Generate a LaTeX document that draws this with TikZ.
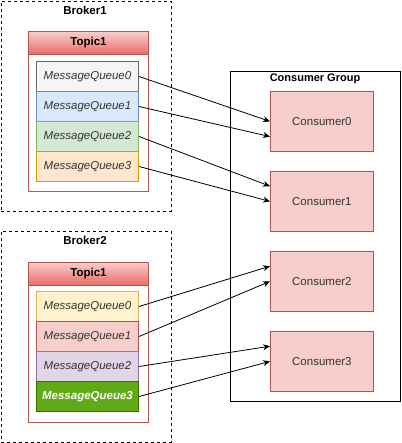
\documentclass[tikz,border=0pt]{standalone}
\usepackage{fontspec}
\setmainfont{Liberation Sans}
\usetikzlibrary{arrows.meta,calc}
\definecolor{redfill}{HTML}{F8CECC}
\definecolor{redline}{HTML}{B85450}
\definecolor{redhead}{HTML}{EA6B66}
\definecolor{gfill}{HTML}{F5F5F5}\definecolor{gline}{HTML}{666666}
\definecolor{bfill}{HTML}{DAE8FC}\definecolor{bline}{HTML}{6C8EBF}
\definecolor{grfill}{HTML}{D5E8D4}\definecolor{grline}{HTML}{82B366}
\definecolor{ofill}{HTML}{FFE6CC}\definecolor{oline}{HTML}{D79B00}
\definecolor{yfill}{HTML}{FFF2CC}\definecolor{yline}{HTML}{D6B656}
\definecolor{pfill}{HTML}{E1D5E7}\definecolor{pline}{HTML}{9673A6}
\definecolor{dgfill}{HTML}{60A917}\definecolor{dgline}{HTML}{2D7600}
\definecolor{txtgray}{HTML}{333333}
\tikzset{
  broker/.style={draw, dashed, line width=0.8pt, minimum width=170pt, minimum height=210pt, anchor=north west, inner sep=0pt},
  topicbody/.style={draw=redline, line width=1pt, fill=white, minimum width=120pt, minimum height=160pt, anchor=north west, inner sep=0pt},
  topichead/.style={draw=redline, line width=1pt, top color=redfill, bottom color=redhead, minimum width=120pt, minimum height=23pt, anchor=north west, inner sep=0pt, font=\bfseries\fontsize{11.5}{13}\selectfont},
  mq/.style={draw, line width=1pt, minimum width=102pt, minimum height=30pt, anchor=north west, inner sep=0pt, font=\itshape\fontsize{11.5}{13}\selectfont, text=txtgray},
  consumer/.style={draw=redline, fill=redfill, line width=0.8pt, minimum width=103pt, minimum height=60pt, anchor=north west, inner sep=0pt, font=\fontsize{11.5}{13}\selectfont, text=txtgray},
  group/.style={draw, line width=0.8pt, minimum width=170pt, minimum height=330pt, anchor=north west, inner sep=0pt},
  title/.style={font=\bfseries\fontsize{11}{13}\selectfont},
  conn/.style={draw, line width=0.8pt, -{Stealth[length=7pt,width=6pt]}}
}
\begin{document}
\begin{tikzpicture}[x=1pt,y=-1pt]
\useasboundingbox (0,0) rectangle (401,443);
% Broker1
\node[broker] (b1) at (0.5,1) {};
\node[title, font=\bfseries\fontsize{11.5}{13}\selectfont] (b1t) at (85,10) {Broker1};
\node[topicbody] (t1body) at (28,31) {};
\node[topichead] (t1head) at (28,31) {Topic1};
\node[mq, fill=gfill, draw=gline] (a0) at (36,61) {MessageQueue0};
\node[mq, fill=bfill, draw=bline] (a1) at (36,91) {MessageQueue1};
\node[mq, fill=grfill, draw=grline] (a2) at (36,121) {MessageQueue2};
\node[mq, fill=ofill, draw=oline] (a3) at (36,151) {MessageQueue3};
% Broker2
\node[broker, minimum height=211pt] (b2) at (0.5,231) {};
\node[title, font=\bfseries\fontsize{11.5}{13}\selectfont] (b2t) at (85,240) {Broker2};
\node[topicbody] (t2body) at (28,261.5) {};
\node[topichead] (t2head) at (28,261.5) {Topic1};
\node[mq, fill=yfill, draw=yline] (c0) at (36,291) {MessageQueue0};
\node[mq, fill=redfill, draw=redline] (c1) at (36,321) {MessageQueue1};
\node[mq, fill=pfill, draw=pline] (c2) at (36,351) {MessageQueue2};
\node[mq, fill=dgfill, draw=dgline, text=white, font=\bfseries\itshape\fontsize{11.5}{13}\selectfont] (c3) at (36,381) {MessageQueue3};
% Consumer group
\node[group] (g) at (230,71) {};
\node[title] (gt) at (315,79) {Consumer Group};
\node[consumer] (k0) at (270,91) {Consumer0};
\node[consumer] (k1) at (270,171) {Consumer1};
\node[consumer] (k2) at (270,251) {Consumer2};
\node[consumer] (k3) at (270,331) {Consumer3};
% connectors
\draw[conn] (a0.east) -- (k0.west);
\draw[conn] (a1.east) -- ($(k0.north west)!0.75!(k0.south west)$);
\draw[conn] (a2.east) -- ($(k1.north west)!0.25!(k1.south west)$);
\draw[conn] (a3.east) -- (k1.west);
\draw[conn] (c0.east) -- ($(k2.north west)!0.25!(k2.south west)$);
\draw[conn] (c1.east) -- (k2.west);
\draw[conn] (c2.east) -- ($(k3.north west)!0.25!(k3.south west)$);
\draw[conn] (c3.east) -- (k3.west);
\end{tikzpicture}
\end{document}
